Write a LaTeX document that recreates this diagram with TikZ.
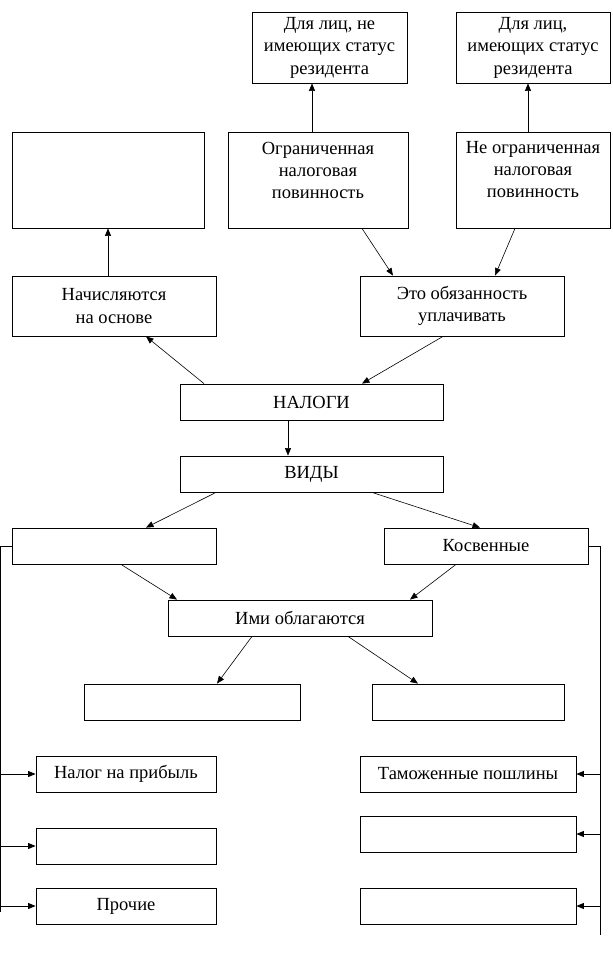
\documentclass[tikz,border=0pt]{standalone}
\usepackage{fontspec}
\setmainfont{Liberation Serif}
\usetikzlibrary{arrows.meta,positioning}

\begin{document}
\begin{tikzpicture}[x=1pt,y=-1pt,
    box/.style={draw, line width=0.8pt, align=center, inner sep=0pt, font=\fontsize{18.5}{22.5}\selectfont},
    txt/.style={align=center, inner sep=0pt, font=\fontsize{18.5}{22}\selectfont},
    arr/.style={-{Triangle[length=7.5pt,width=6pt]}, line width=0.6pt}]
    \useasboundingbox (0,0) rectangle (613,961);
    \node[box, minimum width=155, minimum height=71] (res1) at (329.5, 47.5) {Для лиц, не\\имеющих статус\\резидента\rule[-4pt]{0pt}{0pt}};
    \node[box, minimum width=154, minimum height=71] (res2) at (533, 47.5) {Для лиц,\\имеющих статус\\резидента\rule[-4pt]{0pt}{0pt}};
    \node[box, minimum width=192, minimum height=96] (base) at (108, 180) {};
    \node[box, minimum width=180, minimum height=96] (lim) at (318, 180) {};
    \node[txt, below=10pt of lim.north] (limtxt) {Ограниченная\\налоговая\\повинность};
    \node[box, minimum width=154, minimum height=96] (unlim) at (533, 180) {};
    \node[txt, below=10pt of unlim.north] (unlimtxt) {Не ограниченная\\налоговая\\повинность};
    \node[box, minimum width=204, minimum height=60] (accr) at (114, 306) {Начисляются\\на основе};
    \node[box, minimum width=204, minimum height=60] (duty) at (462, 306) {Это обязанность\\уплачивать};
    \node[box, minimum width=263, minimum height=36] (taxes) at (311.5, 402) {НАЛОГИ};
    \node[box, minimum width=263, minimum height=36] (kinds) at (311.5, 474) {ВИДЫ};
    \node[box, minimum width=204, minimum height=36] (direct) at (114, 546) {};
    \node[box, minimum width=204, minimum height=36] (indirect) at (486, 546) {Косвенные};
    \node[box, minimum width=264, minimum height=36] (objects) at (300, 618) {Ими облагаются};
    \node[box, minimum width=216, minimum height=36] (obj1) at (192, 702) {};
    \node[box, minimum width=192, minimum height=36] (obj2) at (468, 702) {};
    \node[box, minimum width=180, minimum height=36] (profit) at (126, 774) {Налог на прибыль};
    \node[box, minimum width=180, minimum height=36] (dir2) at (126, 846) {};
    \node[box, minimum width=180, minimum height=36] (other) at (126, 906) {Прочие};
    \node[box, minimum width=216, minimum height=36] (customs) at (468, 774) {Таможенные пошлины};
    \node[box, minimum width=216, minimum height=36] (ind2) at (468, 834) {};
    \node[box, minimum width=216, minimum height=36] (ind3) at (468, 906) {};
    \coordinate (lbus) at (0.3, 912);
    \coordinate (rbus) at (600, 935);

    \draw[arr] ([xshift=-6]lim.north) to ([xshift=-17.5]res1.south);
    \draw[arr] ([xshift=-5]unlim.north) to ([xshift=-5]res2.south);
    \draw[arr] ([xshift=-6]accr.north) to (base.south);
    \draw[arr] ([xshift=44]lim.south) to ([xshift=-69]duty.north);
    \draw[arr] ([xshift=-18]unlim.south) to ([xshift=33]duty.north);
    \draw[arr] ([xshift=-107.5]taxes.north) to ([xshift=32]accr.south);
    \draw[arr] ([xshift=-19]duty.south) to ([xshift=50.5]taxes.north);
    \draw[arr] ([xshift=-23.5]taxes.south) to ([xshift=-23.5]kinds.north);
    \draw[arr] ([xshift=-95.5]kinds.south) to ([xshift=32]direct.north);
    \draw[arr] ([xshift=60.5]kinds.south) to ([xshift=-6]indirect.north);
    \draw[arr] ([xshift=7]direct.south) to ([xshift=-123]objects.north);
    \draw[arr] ([xshift=-30]indirect.south) to ([xshift=110]objects.north);
    \draw[arr] ([xshift=-48]objects.south) to ([xshift=25]obj1.north);
    \draw[arr] ([xshift=48]objects.south) to ([xshift=-50]obj2.north);

    \draw[line width=0.8pt] (direct.west) -| (lbus);
    \draw[arr, line width=0.8pt] (lbus |- profit.west) to (profit.west);
    \draw[arr, line width=0.8pt] (lbus |- dir2.west) to (dir2.west);
    \draw[arr, line width=0.8pt] (lbus |- other.west) to (other.west);
    \draw[line width=0.8pt] (indirect.east) -| (rbus);
    \draw[arr, line width=0.8pt] (rbus |- customs.east) to (customs.east);
    \draw[arr, line width=0.8pt] (rbus |- ind2.east) to (ind2.east);
    \draw[arr, line width=0.8pt] (rbus |- ind3.east) to (ind3.east);
\end{tikzpicture}
\end{document}
